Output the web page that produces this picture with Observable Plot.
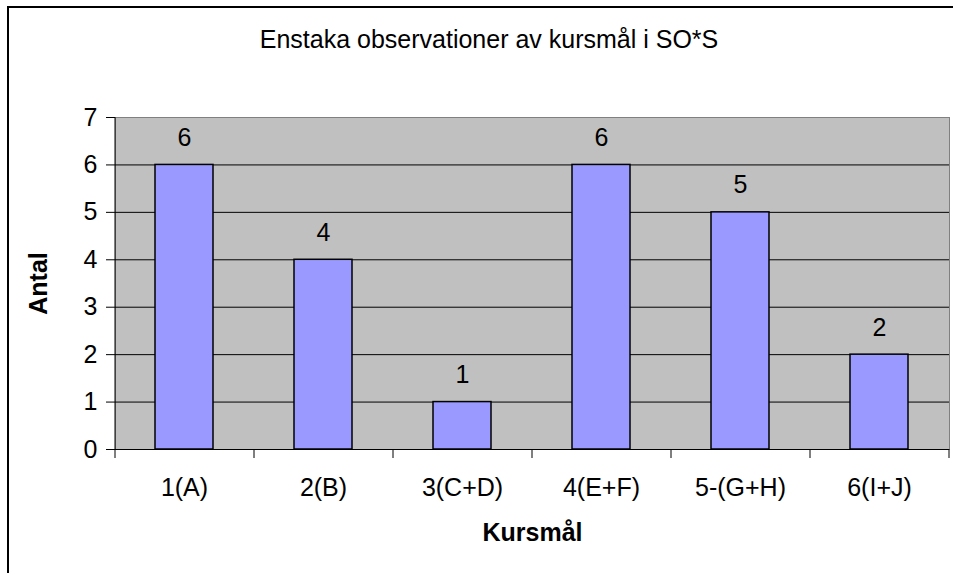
<!DOCTYPE html>
<html>
<head>
<meta charset="utf-8">
<script src="https://cdn.jsdelivr.net/npm/d3@7"></script>
<script src="https://cdn.jsdelivr.net/npm/@observablehq/plot@0.6"></script>
<style>
  html, body { margin: 0; padding: 0; background: #fff; }
  #wrap { position: relative; width: 953px; height: 573px; overflow: hidden; font-family: "Liberation Sans", Arial, sans-serif; }
  #border { position: absolute; left: 7px; top: 6px; width: 1000px; height: 700px; border-left: 2px solid #000; border-top: 2px solid #000; }
  #title { position: absolute; left: 489px; top: 27px; transform: translateX(-50%); white-space: nowrap; font-size: 25px; line-height: 25px; color: #000; }
  #chart { position: absolute; left: 0; top: 0; }
</style>
</head>
<body>
<div id="wrap">
  <div id="border"></div>
  <div id="chart"></div>
  <div id="title">Enstaka observationer av kursmål i SO*S</div>
</div>
<script>
const categories = ["1(A)", "2(B)", "3(C+D)", "4(E+F)", "5-(G+H)", "6(I+J)"];
const counts = [6, 4, 1, 6, 5, 2];
const yTicks = [0, 1, 2, 3, 4, 5, 6, 7];
const gridTicks = [1, 2, 3, 4, 5, 6];
const yLabel = "Antal";
const xLabel = "Kursmål";

const data = categories.map((c, i) => ({cat: c, n: counts[i]}));

const W = 953, H = 573;
const mL = 115, mR = 4, mT = 117, mB = 124;
const half = (W - mL - mR) / categories.length / 2;

const chart = Plot.plot({
  width: W,
  height: H,
  marginLeft: mL,
  marginRight: mR,
  marginTop: mT,
  marginBottom: mB,
  style: {fontFamily: "'Liberation Sans', Arial, sans-serif", fontSize: "25px", color: "#000", background: "transparent", overflow: "visible"},
  x: {domain: categories, paddingInner: 0.58, paddingOuter: 0.29, label: null},
  y: {domain: [0, 7], label: null},
  marks: [
    Plot.frame({fill: "#C0C0C0", stroke: "#808080"}),
    Plot.gridY(gridTicks, {stroke: "#000", strokeOpacity: 1, strokeWidth: 1}),
    Plot.barY(data, {x: "cat", y: "n", fill: "#9999FF", stroke: "#000", strokeWidth: 1.5, inset: 0}),
    Plot.ruleY([0], {stroke: "#000", strokeWidth: 1}),
    Plot.ruleX([categories[0]], {dx: -half, stroke: "#000", strokeWidth: 1}),
    Plot.axisY(yTicks, {tickSize: 9, tickPadding: 9, fontSize: 25, label: null}),
    Plot.axisX({tickSize: 9, tickFormat: () => "", dx: -half, label: null}),
    Plot.axisX([categories[categories.length - 1]], {tickSize: 9, tickFormat: () => "", dx: half, label: null}),
    Plot.axisX({tickSize: 0, tickPadding: 29, fontSize: 25, label: null}),
    Plot.text(data, {x: "cat", y: "n", text: d => String(d.n), dy: -27, fontSize: 25, fill: "#000"}),
    Plot.text([yLabel], {frameAnchor: "left", dx: -77, rotate: -90, textAnchor: "middle", lineAnchor: "middle", fontSize: 25, fontWeight: "bold", fill: "#000"}),
    Plot.text([xLabel], {frameAnchor: "bottom", dy: 83, textAnchor: "middle", lineAnchor: "middle", fontSize: 25, fontWeight: "bold", fill: "#000"})
  ]
});
document.getElementById("chart").appendChild(chart);
</script>
</body>
</html>
